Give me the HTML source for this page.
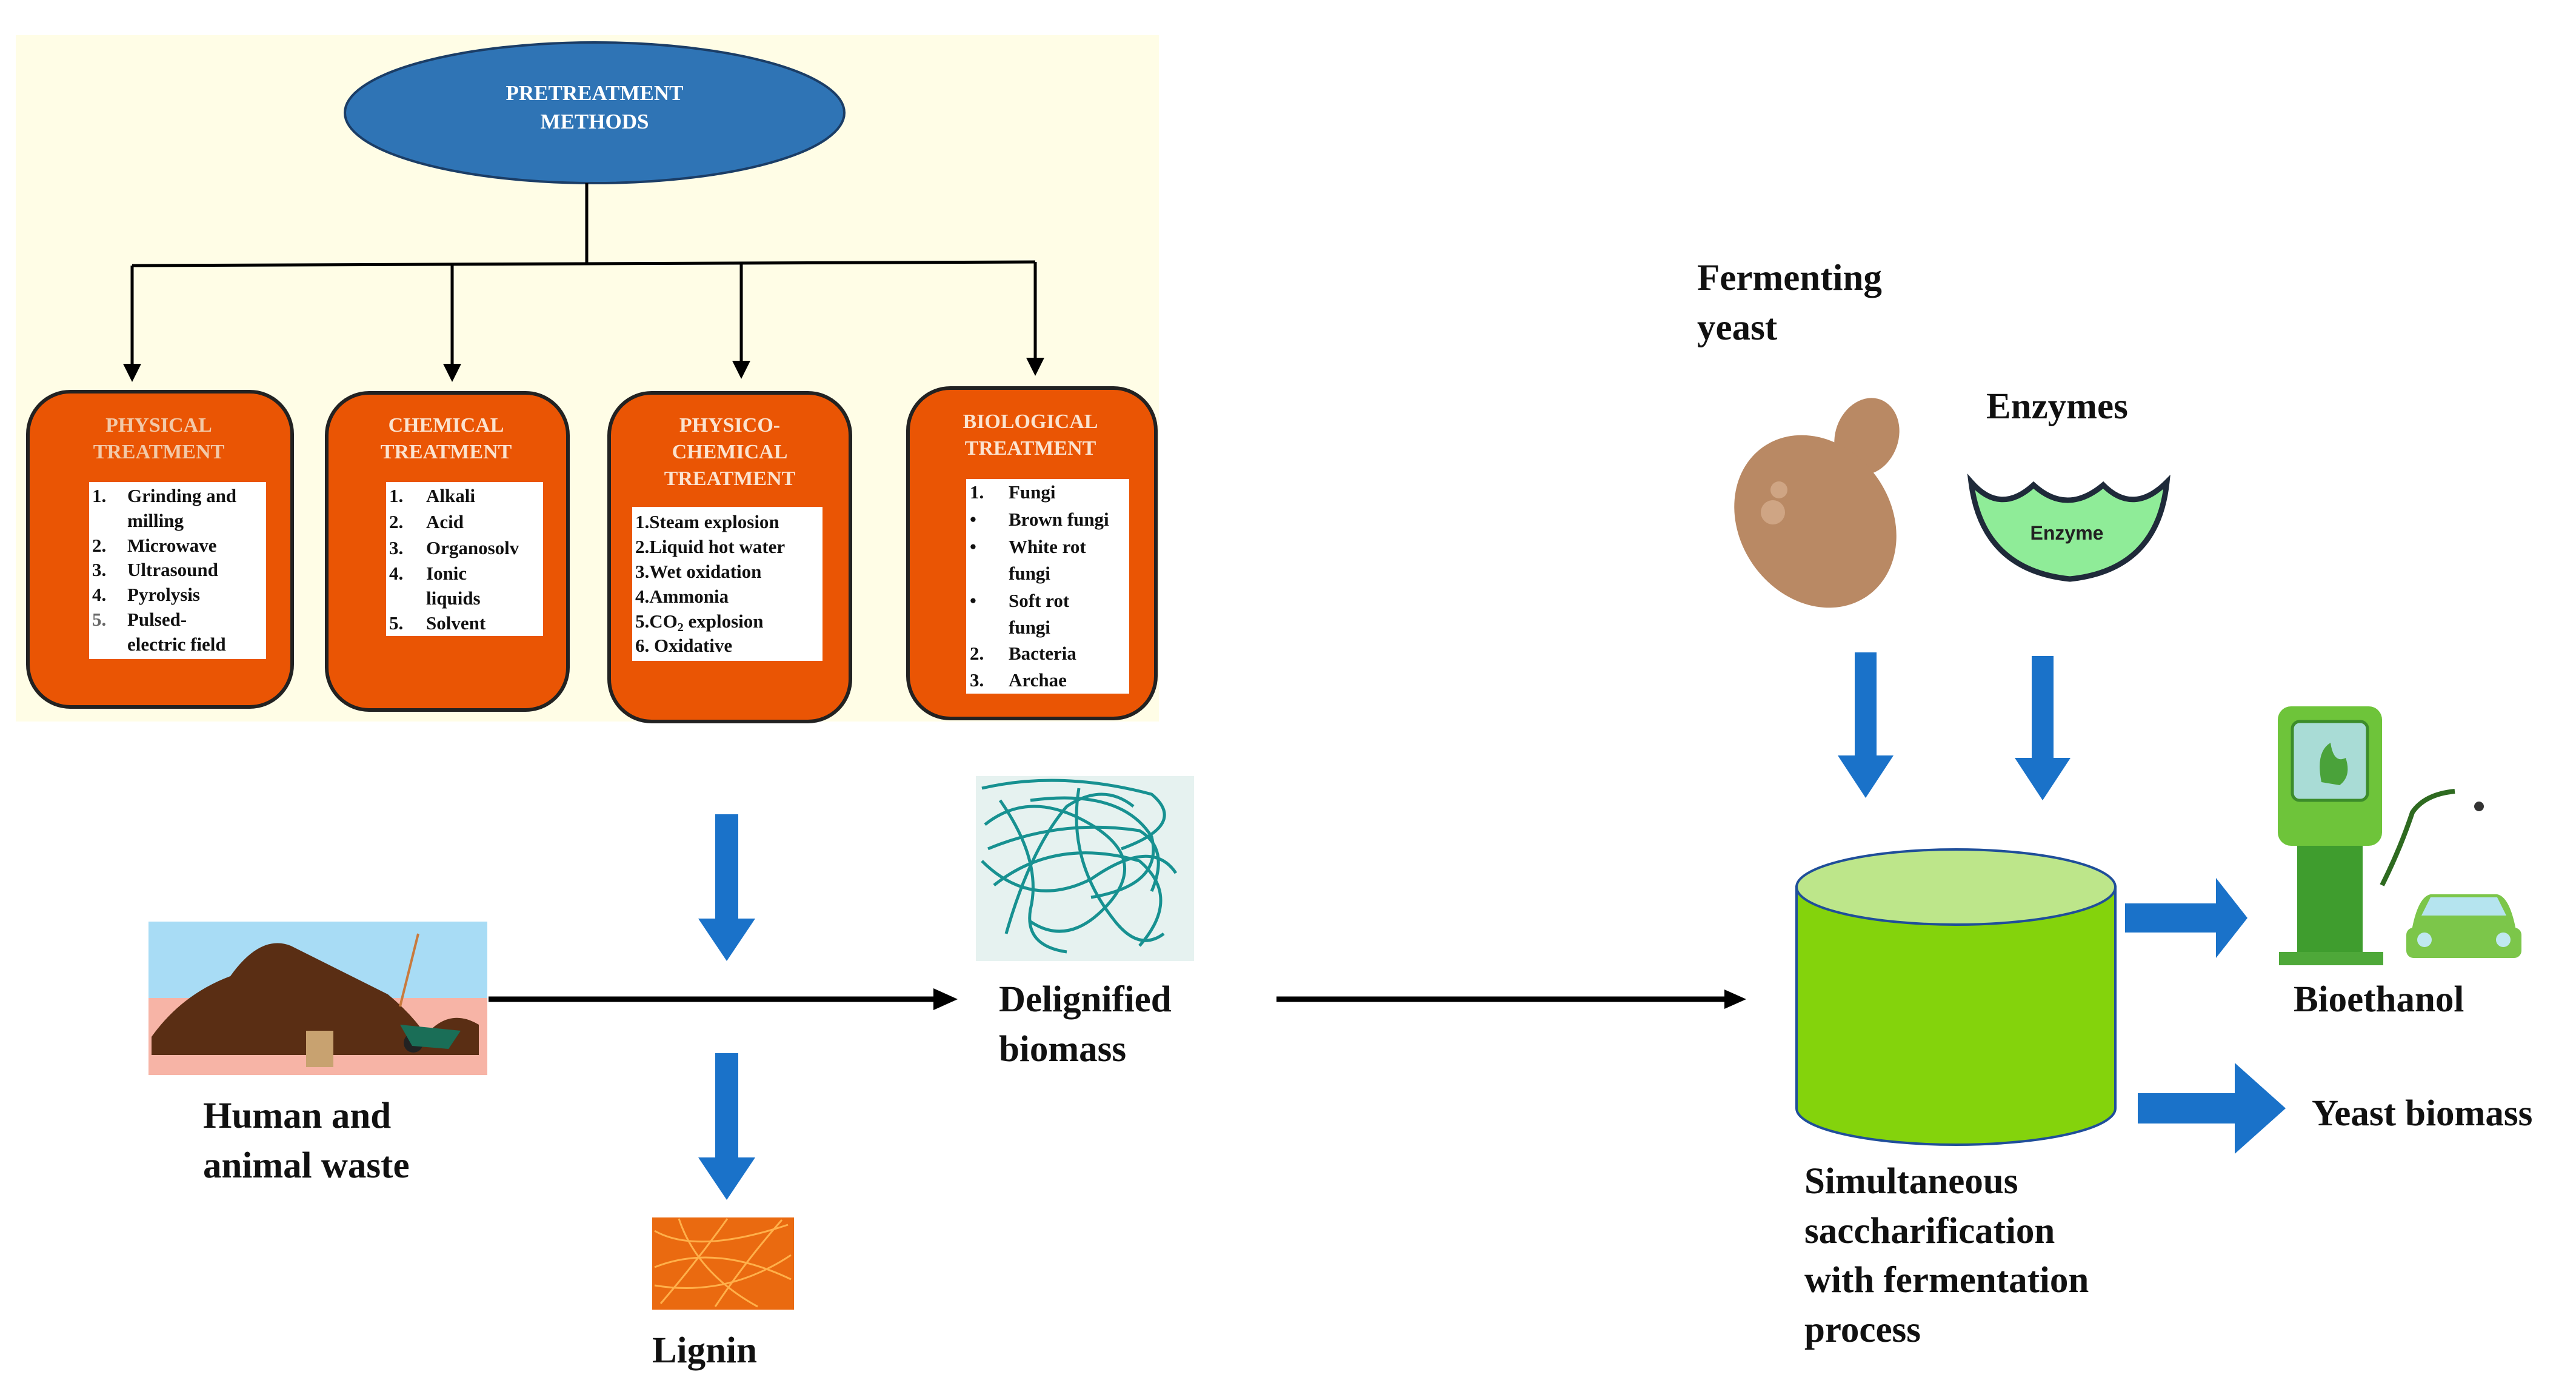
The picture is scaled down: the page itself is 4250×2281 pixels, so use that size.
<!DOCTYPE html>
<html><head><meta charset="utf-8"><style>
html,body{margin:0;padding:0;background:#fff}
body{width:4250px;height:2281px;position:relative;overflow:hidden;font-family:"Liberation Serif",serif}
svg{position:absolute;left:0;top:0}
</style></head><body>
<svg width="4250" height="2281" viewBox="0 0 4250 2281" xmlns="http://www.w3.org/2000/svg" font-family="Liberation Serif, serif" font-weight="bold">
<defs>
<marker id="ah" markerWidth="6" markerHeight="6" refX="5" refY="3" orient="auto" markerUnits="strokeWidth"><path d="M0,0 L6,3 L0,6 z" fill="#000"/></marker>
</defs>
<rect x="26" y="58" width="1886" height="1132" fill="#fffde6"/>
<ellipse cx="981" cy="186" rx="412" ry="116" fill="#2f74b5" stroke="#1b3d66" stroke-width="4"/>
<text x="981" y="165" font-size="35" fill="#fff" text-anchor="middle">PRETREATMENT</text>
<text x="981" y="212" font-size="35" fill="#fff" text-anchor="middle">METHODS</text>
<g stroke="#000" stroke-width="5" fill="none">
<line x1="968" y1="302" x2="968" y2="436"/>
<line x1="218" y1="438" x2="1708" y2="432"/>
<line x1="218" y1="438" x2="218" y2="625" marker-end="url(#ah)"/>
<line x1="746" y1="436" x2="746" y2="625" marker-end="url(#ah)"/>
<line x1="1223" y1="434" x2="1223" y2="620" marker-end="url(#ah)"/>
<line x1="1708" y1="432" x2="1708" y2="615" marker-end="url(#ah)"/>
</g>
<g fill="#ea5504" stroke="#222" stroke-width="6">
<rect x="46" y="646" width="436" height="520" rx="70"/>
<rect x="539" y="648" width="398" height="523" rx="70"/>
<rect x="1005" y="648" width="398" height="542" rx="70"/>
<rect x="1498" y="640" width="409" height="545" rx="70"/>
</g>
<g fill="#fff">
<rect x="147" y="795" width="292" height="292"/>
<rect x="637" y="795" width="259" height="254"/>
<rect x="1043" y="836" width="314" height="254"/>
<rect x="1594" y="790" width="269" height="354"/>
</g>
<g font-size="34" text-anchor="middle" fill="#fbe3cf">
<text x="262" y="712" fill="#f2c9a8">PHYSICAL</text><text x="262" y="756" fill="#f2c9a8">TREATMENT</text>
<text x="736" y="712">CHEMICAL</text><text x="736" y="756">TREATMENT</text>
<text x="1204" y="712">PHYSICO-</text><text x="1204" y="756">CHEMICAL</text><text x="1204" y="800">TREATMENT</text>
<text x="1700" y="706">BIOLOGICAL</text><text x="1700" y="750">TREATMENT</text>
</g>
<g font-size="31" fill="#111">
<text x="152" y="828">1.</text><text x="210" y="828">Grinding and</text>
<text x="210" y="869">milling</text>
<text x="152" y="910">2.</text><text x="210" y="910">Microwave</text>
<text x="152" y="950">3.</text><text x="210" y="950">Ultrasound</text>
<text x="152" y="991">4.</text><text x="210" y="991">Pyrolysis</text>
<text x="152" y="1032" fill="#666">5.</text><text x="210" y="1032">Pulsed-</text>
<text x="210" y="1073">electric field</text>
<text x="642" y="828">1.</text><text x="703" y="828">Alkali</text>
<text x="642" y="871">2.</text><text x="703" y="871">Acid</text>
<text x="642" y="914">3.</text><text x="703" y="914">Organosolv</text>
<text x="642" y="956">4.</text><text x="703" y="956">Ionic</text>
<text x="703" y="997">liquids</text>
<text x="642" y="1038">5.</text><text x="703" y="1038">Solvent</text>
<text x="1048" y="871">1.Steam explosion</text>
<text x="1048" y="912">2.Liquid hot water</text>
<text x="1048" y="953">3.Wet oxidation</text>
<text x="1048" y="994">4.Ammonia</text>
<text x="1048" y="1035">5.CO<tspan font-size="20" dy="6">2</tspan><tspan dy="-6"> explosion</tspan></text>
<text x="1048" y="1075">6. Oxidative</text>
<text x="1600" y="822">1.</text><text x="1664" y="822">Fungi</text>
<text x="1600" y="867">•</text><text x="1664" y="867">Brown fungi</text>
<text x="1600" y="912">•</text><text x="1664" y="912">White rot</text>
<text x="1664" y="956">fungi</text>
<text x="1600" y="1001">•</text><text x="1664" y="1001">Soft rot</text>
<text x="1664" y="1045">fungi</text>
<text x="1600" y="1088">2.</text><text x="1664" y="1088">Bacteria</text>
<text x="1600" y="1132">3.</text><text x="1664" y="1132">Archae</text>
</g>

<g fill="#1a72c9">
<path d="M1180,1343 h38 v172 h28 l-47,70 l-47,-70 h28 z"/>
<path d="M1180,1737 h38 v172 h28 l-47,70 l-47,-70 h28 z"/>
<path d="M3060,1076 h36 v170 h28 l-46,70 l-46,-70 h28 z"/>
<path d="M3352,1082 h36 v168 h28 l-46,70 l-46,-70 h28 z"/>
<path d="M3506,1490 h150 v-42 l52,66 l-52,66 v-42 h-150 z"/>
<path d="M3527,1803 h160 v-50 l84,75 l-84,75 v-50 h-160 z"/>
</g>

<g stroke="#000" stroke-width="9">
<line x1="806" y1="1648" x2="1545" y2="1648"/>
<line x1="2106" y1="1648" x2="2850" y2="1648"/>
</g>
<path d="M1540,1630 l40,18 l-40,18 z" fill="#000"/>
<path d="M2845,1632 l36,16 l-36,16 z" fill="#000"/>

<rect x="245" y="1520" width="559" height="126" fill="#a8dcf5"/>
<rect x="245" y="1646" width="559" height="127" fill="#f7b4a6"/>
<path d="M250,1710 Q300,1640 380,1610 Q430,1540 480,1560 Q560,1600 640,1640 Q700,1690 720,1740 L250,1740 z" fill="#5a2e14"/>
<path d="M700,1710 Q740,1660 790,1690 L790,1740 L700,1740 z" fill="#5a2e14"/>
<line x1="690" y1="1540" x2="660" y2="1660" stroke="#c97a3d" stroke-width="4"/>
<rect x="505" y="1700" width="45" height="60" fill="#c8a270"/>
<circle cx="682" cy="1720" r="16" fill="#222"/>
<path d="M660,1690 L760,1700 L740,1730 L680,1725 z" fill="#1a6e57"/>

<rect x="1610" y="1280" width="360" height="305" fill="#e6f2f0"/>
<g stroke="#179191" stroke-width="5" fill="none">
<path d="M1620,1300 Q1750,1270 1900,1310 Q1960,1360 1850,1400"/>
<path d="M1625,1360 Q1700,1300 1800,1360 Q1900,1420 1820,1500 Q1760,1560 1700,1520"/>
<path d="M1640,1460 Q1740,1380 1880,1420 Q1950,1480 1880,1560"/>
<path d="M1620,1420 Q1700,1500 1800,1450 Q1900,1380 1940,1440"/>
<path d="M1660,1540 Q1700,1400 1760,1330 Q1820,1290 1870,1330"/>
<path d="M1650,1320 Q1720,1420 1700,1500 Q1690,1560 1760,1570"/>
<path d="M1780,1300 Q1760,1420 1840,1520 Q1880,1570 1920,1540"/>
<path d="M1630,1400 Q1750,1350 1880,1370 Q1930,1400 1900,1470"/>
<path d="M1700,1320 Q1850,1300 1900,1380 Q1920,1460 1800,1480"/>
</g>

<rect x="1076" y="2008" width="234" height="152" fill="#ea6a10"/>
<g stroke="#ffb04a" stroke-width="3" fill="none">
<path d="M1080,2030 Q1150,2070 1300,2020"/><path d="M1080,2090 Q1180,2050 1305,2110"/>
<path d="M1090,2150 Q1150,2080 1200,2010"/><path d="M1180,2155 Q1230,2080 1290,2012"/>
<path d="M1080,2120 Q1200,2140 1305,2070"/><path d="M1120,2010 Q1150,2100 1250,2155"/>
</g>

<ellipse cx="3080" cy="720" rx="52" ry="65" fill="#b98964" transform="rotate(20 3080 720)"/>
<ellipse cx="2995" cy="860" rx="125" ry="150" fill="#b98964" transform="rotate(-35 2995 860)"/>
<circle cx="2925" cy="845" r="20" fill="#cfa584"/><circle cx="2935" cy="808" r="14" fill="#cfa584"/>
<path d="M3252,795 Q3300,850 3355,800 Q3410,850 3470,800 Q3520,850 3575,795 Q3560,940 3415,955 Q3270,940 3252,795 z" fill="#8fec98" stroke="#1f2a3a" stroke-width="9"/>
<text x="3410" y="890" font-family="Liberation Sans, sans-serif" font-size="32" text-anchor="middle" fill="#222">Enzyme</text>

<path d="M2964,1463 V1828 A263,60 0 0 0 3490,1828 V1463 z" fill="#84d30c" stroke="#1f4e9a" stroke-width="4"/>
<ellipse cx="3227" cy="1463" rx="263" ry="62" fill="#bde68a" stroke="#1f4e9a" stroke-width="4"/>

<rect x="3758" y="1165" width="172" height="230" rx="22" fill="#6ec43a"/>
<rect x="3782" y="1190" width="124" height="130" rx="12" fill="#a9dcd6" stroke="#3c8c2a" stroke-width="5"/>
<path d="M3830,1290 Q3820,1240 3845,1225 Q3850,1260 3870,1250 Q3880,1280 3860,1295 z" fill="#4aa23a"/>
<rect x="3790" y="1395" width="108" height="180" fill="#3f9d2e"/>
<rect x="3760" y="1570" width="172" height="22" fill="#4ea839"/>
<path d="M3930,1460 Q3960,1400 3980,1340 Q4000,1310 4050,1305" stroke="#2e6a20" stroke-width="8" fill="none"/>
<circle cx="4090" cy="1330" r="8" fill="#333"/>
<path d="M3975,1560 Q3985,1480 4010,1475 L4120,1475 Q4145,1480 4155,1560 z" fill="#7cc64a"/>
<path d="M3995,1510 L4010,1480 L4120,1480 L4135,1510 z" fill="#b5e4ef"/>
<rect x="3970" y="1530" width="190" height="50" rx="12" fill="#7cc64a"/>
<circle cx="4000" cy="1550" r="12" fill="#bfe8f0"/><circle cx="4130" cy="1550" r="12" fill="#bfe8f0"/>

<g font-size="61" fill="#111">
<text x="335" y="1860">Human and</text>
<text x="335" y="1942">animal waste</text>
<text x="1648" y="1668">Delignified</text>
<text x="1648" y="1750">biomass</text>
<text x="1076" y="2247">Lignin</text>
<text x="2800" y="478">Fermenting</text>
<text x="2800" y="560">yeast</text>
<text x="3277" y="690">Enzymes</text>
<text x="3784" y="1668">Bioethanol</text>
<text x="3814" y="1856">Yeast biomass</text>
<text x="2977" y="1968">Simultaneous</text>
<text x="2977" y="2050">saccharification</text>
<text x="2977" y="2131">with fermentation</text>
<text x="2977" y="2213">process</text>
</g>
</svg>
</body></html>
